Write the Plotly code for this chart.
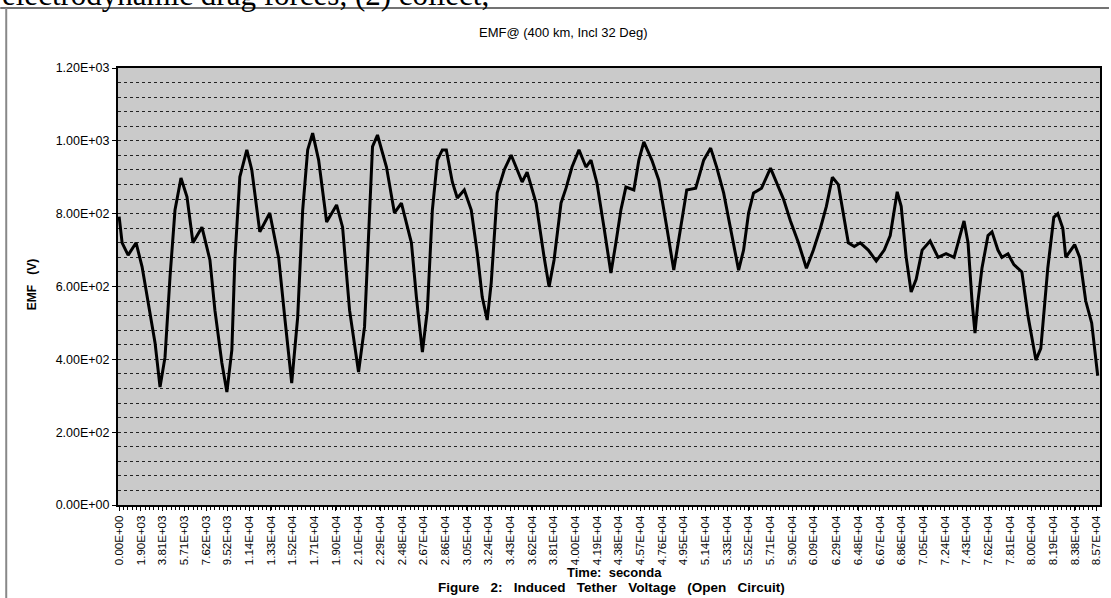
import plotly.graph_objects as go

# ---- data ----
time_s = [0, 262, 787, 1487, 2012, 2536, 3149, 3586, 4023, 4460, 4898, 5422, 5947, 6472, 7259,
          7959, 8396, 9008, 9446, 9883, 10145, 10583, 11195, 11632, 12332, 13206, 13994, 14518,
          15131, 15655, 16093, 16530, 16967, 17492, 18192, 19066, 19591, 20203, 20990, 21515,
          21952, 22215, 22652, 23439, 24139, 24751, 25626, 26063, 26588, 27025, 27462, 27900,
          28337, 28687, 29212, 29649, 30261, 30873, 31398, 31835, 32273, 32623, 33147, 33760,
          34372, 34897, 35334, 35771, 36558, 37258, 37695, 38133, 38745, 39182, 39707, 40319,
          40931, 41369, 41894, 42506, 43118, 43555, 43992, 44430, 45130, 45567, 46004, 46704,
          47316, 48016, 48628, 49240, 49765, 50552, 51252, 51864, 52389, 53001, 53701, 54313,
          54750, 55187, 55625, 56324, 57111, 57636, 58248, 58860, 59560, 60260, 60872, 61484,
          62009, 62534, 63059, 63496, 63933, 64458, 64983, 65683, 66382, 67082, 67607, 68219,
          68569, 69006, 69443, 69881, 70406, 71105, 71805, 72505, 73205, 73555, 74078, 74430,
          74780, 75040, 75300, 75650, 76180, 76530, 77050, 77400, 77930, 78450, 79150, 79680,
          80380, 80810, 81420, 81950, 82300, 82740, 83000, 83440, 83780, 84220, 84750, 85270,
          85800]
emf_v = [792, 720, 686, 720, 654, 555, 445, 324, 406, 626, 810, 898, 846, 720, 763,
         673, 535, 390, 310, 426, 673, 901, 975, 920, 750, 802, 677, 516,
         335, 516, 810, 975, 1021, 947, 777, 824, 763, 535, 365, 489,
         810, 984, 1016, 928, 802, 829, 720, 571, 420, 535, 810, 947,
         975, 975, 887, 843, 865, 810, 692, 571, 508, 610, 857, 920,
         961, 920, 887, 914, 829, 681, 599, 673, 829, 870, 928, 975,
         928, 947, 884, 763, 637, 720, 810, 873, 865, 947, 997, 947,
         892, 763, 645, 763, 865, 870, 947, 980, 928, 857, 747, 645,
         700, 802, 857, 870, 925, 884, 840, 780, 720, 650, 700, 760,
         820, 900, 880, 800, 720, 710, 720, 700, 670, 700, 740, 860,
         820, 680, 585, 620, 700, 725, 680, 690, 680, 720, 780, 720,
         560, 472, 560, 650, 740, 750, 700, 680, 690, 660, 640, 520,
         398, 430, 650, 790, 800, 760, 680, 700, 715, 680, 560, 500,
         355]

x_tick_labels = ["0.00E+00", "1.90E+03", "3.81E+03", "5.71E+03", "7.62E+03", "9.52E+03",
                 "1.14E+04", "1.33E+04", "1.52E+04", "1.71E+04", "1.90E+04", "2.10E+04",
                 "2.29E+04", "2.48E+04", "2.67E+04", "2.86E+04", "3.05E+04", "3.24E+04",
                 "3.43E+04", "3.62E+04", "3.81E+04", "4.00E+04", "4.19E+04", "4.38E+04",
                 "4.57E+04", "4.76E+04", "4.95E+04", "5.14E+04", "5.33E+04", "5.52E+04",
                 "5.71E+04", "5.90E+04", "6.09E+04", "6.29E+04", "6.48E+04", "6.67E+04",
                 "6.86E+04", "7.05E+04", "7.24E+04", "7.43E+04", "7.62E+04", "7.81E+04",
                 "8.00E+04", "8.19E+04", "8.38E+04", "8.57E+04"]
y_tick_labels = ["0.00E+00", "2.00E+02", "4.00E+02", "6.00E+02", "8.00E+02", "1.00E+03", "1.20E+03"]

Y_MAX = 1200
Y_GRID_STEP = 40

W, H = 1111, 598
L, R, T, B = 118, 9, 68, 93
pw, ph = W - L - R, H - T - B


def px_to_paper_x(px):
    return (px - L) / pw


def py_to_paper_y(py):
    return (H - B - py) / ph


FONT = "Liberation Sans, Arial, sans-serif"

fig = go.Figure()
fig.add_trace(go.Scatter(
    x=time_s, y=emf_v, mode="lines",
    line=dict(color="black", width=3),
    showlegend=False, hoverinfo="x+y",
))

fig.update_layout(
    width=W, height=H,
    margin=dict(l=L, r=R, t=T, b=B),
    paper_bgcolor="white",
    plot_bgcolor="#cacaca",
    font=dict(family=FONT, color="black", size=11),
    showlegend=False,
)

fig.update_xaxes(
    range=[-100, 86000],
    tickmode="array",
    tickvals=[float(s) for s in x_tick_labels],
    ticktext=x_tick_labels,
    tickangle=-90,
    tickfont=dict(size=11.5, family=FONT),
    showgrid=False, zeroline=False,
    showline=True, linecolor="black", linewidth=2, mirror=True,
    ticks="outside", ticklen=4, tickcolor="black",
    minor=dict(dtick=1904.76 / 5, tick0=0, ticks="outside", ticklen=3, tickcolor="black"),
)

fig.update_yaxes(
    range=[0, Y_MAX],
    tickmode="array",
    tickvals=[float(s) for s in y_tick_labels],
    ticktext=y_tick_labels,
    tickfont=dict(size=12.5, family=FONT),
    showgrid=True, gridcolor="#222222", gridwidth=1, griddash="dot",
    zeroline=False,
    showline=True, linecolor="black", linewidth=2, mirror=True,
    ticks="outside", ticklen=4, tickcolor="black",
    minor=dict(tickmode="array",
               tickvals=list(range(0, Y_MAX + 1, Y_GRID_STEP)),
               showgrid=True, gridcolor="#222222", gridwidth=1, griddash="dot"),
)

annotations = [
    dict(text="EMF@ (400 km, Incl 32 Deg)", x=px_to_paper_x(564), y=py_to_paper_y(33),
         xref="paper", yref="paper", showarrow=False, xanchor="center", yanchor="middle",
         font=dict(size=13, family=FONT)),
    dict(text="<b>EMF\u00a0\u00a0 (V)</b>", x=px_to_paper_x(32), y=py_to_paper_y(285),
         xref="paper", yref="paper", showarrow=False, textangle=-90,
         xanchor="center", yanchor="middle", font=dict(size=12, family=FONT)),
    dict(text="<b>Time:\u00a0 seconda</b>", x=px_to_paper_x(616), y=py_to_paper_y(572),
         xref="paper", yref="paper", showarrow=False, xanchor="center", yanchor="middle",
         font=dict(size=13, family=FONT)),
    dict(text="<b>Figure\u00a0\u00a0 2:\u00a0\u00a0 Induced\u00a0\u00a0 Tether\u00a0\u00a0 Voltage\u00a0\u00a0 (Open\u00a0\u00a0 Circuit)</b>",
         x=px_to_paper_x(613), y=py_to_paper_y(587),
         xref="paper", yref="paper", showarrow=False, xanchor="center", yanchor="middle",
         font=dict(size=13.5, family=FONT)),
    dict(text="electrodynamic drag forces, (2) collect,", x=px_to_paper_x(0), y=py_to_paper_y(14),
         xref="paper", yref="paper", showarrow=False, xanchor="left", yanchor="bottom",
         font=dict(size=31, family="Liberation Serif, Times New Roman, serif")),
]
fig.update_layout(annotations=annotations)

shapes = [
    dict(type="line", xref="paper", yref="paper",
         x0=px_to_paper_x(0), x1=px_to_paper_x(1111), y0=py_to_paper_y(8), y1=py_to_paper_y(8),
         line=dict(color="#444444", width=1.5)),
    dict(type="line", xref="paper", yref="paper",
         x0=px_to_paper_x(6), x1=px_to_paper_x(6), y0=py_to_paper_y(8), y1=py_to_paper_y(598),
         line=dict(color="#888888", width=2)),
]
fig.update_layout(shapes=shapes)

fig.write_html("out.html",
               config={"displayModeBar": False},
               post_script="document.body.style.margin='0';document.body.style.overflow='hidden';")
